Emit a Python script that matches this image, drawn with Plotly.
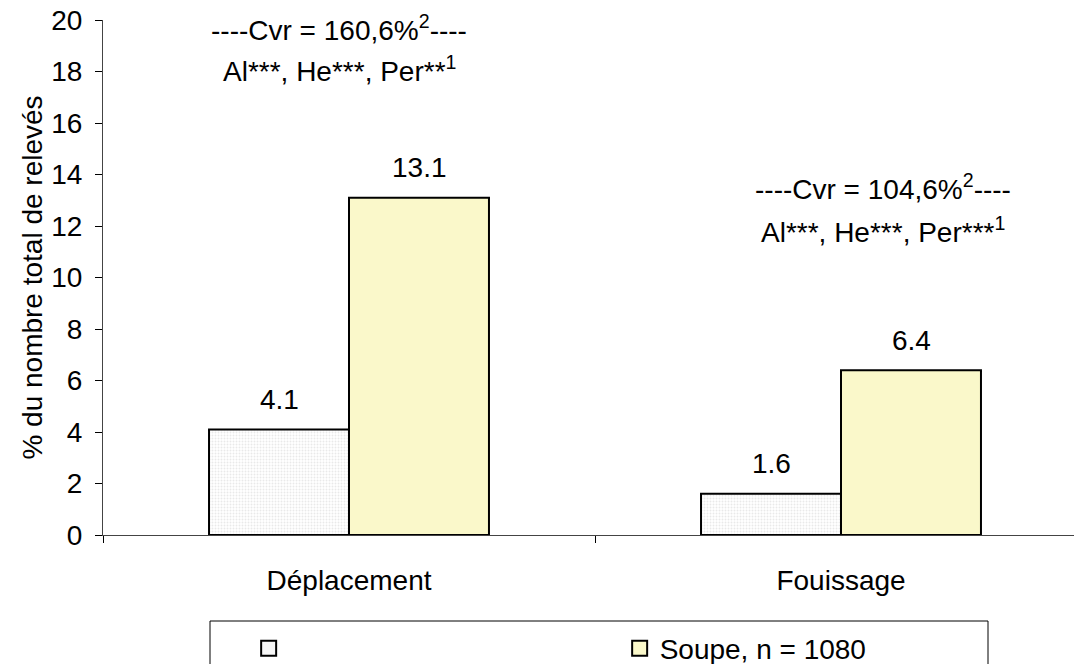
import plotly.graph_objects as go

categories = ["Déplacement", "Fouissage"]
series1_name = " "
series2_name = "Soupe, n = 1080"
series1_values = [4.1, 1.6]
series2_values = [13.1, 6.4]
cvr_texts = ["----Cvr = 160,6%<sup>2</sup>----", "----Cvr = 104,6%<sup>2</sup>----"]
sig_texts = ["Al***, He***, Per**<sup>1</sup>", "Al***, He***, Per***<sup>1</sup>"]
y_ticks = [0, 2, 4, 6, 8, 10, 12, 14, 16, 18, 20]

FONT = "Liberation Sans, Arial, sans-serif"
FS = 28
YELLOW = "#FAF8CA"

W, H = 1074, 664
L, T = 103, 20
PLOT_W = W - L
PLOT_H = 515
B = H - T - PLOT_H

fig = go.Figure()
fig.add_trace(go.Bar(
    x=categories, y=series1_values, name=series1_name, showlegend=False,
    marker=dict(color="white", line=dict(color="black", width=2),
                pattern=dict(shape=".", fgcolor="#d4d4d4", bgcolor="white", size=3, solidity=0.35)),
))
fig.add_trace(go.Bar(
    x=categories, y=series2_values, name=series2_name, showlegend=False,
    marker=dict(color=YELLOW, line=dict(color="black", width=2)),
))
# legend keys
fig.add_trace(go.Scatter(x=[None], y=[None], mode="markers", name=series1_name,
                         marker=dict(symbol="square", size=15, color="#f7f7f7", line=dict(color="black", width=2))))
fig.add_trace(go.Scatter(x=[None], y=[None], mode="markers", name=series2_name,
                         marker=dict(symbol="square", size=15, color=YELLOW, line=dict(color="black", width=2))))

annotations = []
for i, c in enumerate(categories):
    annotations.append(dict(x=c, y=series1_values[i], xref="x", yref="y", text=f"{series1_values[i]:.1f}",
                            showarrow=False, xshift=-70, yshift=30, yanchor="middle",
                            font=dict(family=FONT, size=FS, color="black")))
    annotations.append(dict(x=c, y=series2_values[i], xref="x", yref="y", text=f"{series2_values[i]:.1f}",
                            showarrow=False, xshift=70, yshift=30, yanchor="middle",
                            font=dict(family=FONT, size=FS, color="black")))

cvr_pos = [(19.7, 18.1, -10), (13.5, 11.85, 42)]
for i, c in enumerate(categories):
    y1, y2, xs = cvr_pos[i]
    annotations.append(dict(x=c, y=y1, xref="x", yref="y", text=cvr_texts[i], showarrow=False,
                            xshift=xs, yanchor="middle", font=dict(family=FONT, size=FS, color="black")))
    annotations.append(dict(x=c, y=y2, xref="x", yref="y", text=sig_texts[i], showarrow=False,
                            xshift=xs, yanchor="middle", font=dict(family=FONT, size=FS, color="black")))

fig.update_layout(
    width=W, height=H,
    margin=dict(l=L, r=0, t=T, b=B, autoexpand=False),
    paper_bgcolor="white", plot_bgcolor="white",
    barmode="group", bargap=0.431, bargroupgap=0,
    font=dict(family=FONT, size=FS, color="black"),
    showlegend=True,
    legend=dict(orientation="h", x=0.150, y=-0.172, xanchor="left", yanchor="top",
                bgcolor="rgba(0,0,0,0)", borderwidth=0, entrywidth=326, entrywidthmode="pixels",
                itemsizing="trace",
                font=dict(family=FONT, size=FS, color="black"), traceorder="normal"),
    annotations=annotations,
    shapes=[dict(type="rect", xref="paper", yref="paper",
                 x0=(210 - 103) / PLOT_W, x1=(988 - 103) / PLOT_W,
                 y0=(535 - 700) / PLOT_H, y1=(535 - 621) / PLOT_H,
                 line=dict(color="black", width=1), fillcolor="rgba(0,0,0,0)", layer="below")],
)
fig.update_xaxes(type="category", range=[-0.5, -0.5 + PLOT_W / 492], showline=True, linecolor="#444",
                 linewidth=1, ticks="outside", tickson="boundaries", ticklen=7, tickcolor="black",
                 showgrid=False, zeroline=False, tickfont=dict(family=FONT, size=FS),
                 ticklabelstandoff=20, automargin=False)
fig.update_yaxes(range=[0, 20], tickvals=y_ticks, showline=True, linecolor="#444", linewidth=1,
                 ticks="outside", ticklen=7, tickcolor="black", showgrid=False, zeroline=False,
                 tickfont=dict(family=FONT, size=FS), ticklabelstandoff=7, ticklabeloverflow="allow",
                 automargin=False,
                 title=dict(text="% du nombre total de relevés", font=dict(family=FONT, size=FS), standoff=0))

fig.write_html("out.html", config={"displayModeBar": False},
               post_script="document.body.style.margin='0';document.body.style.overflow='hidden';")
